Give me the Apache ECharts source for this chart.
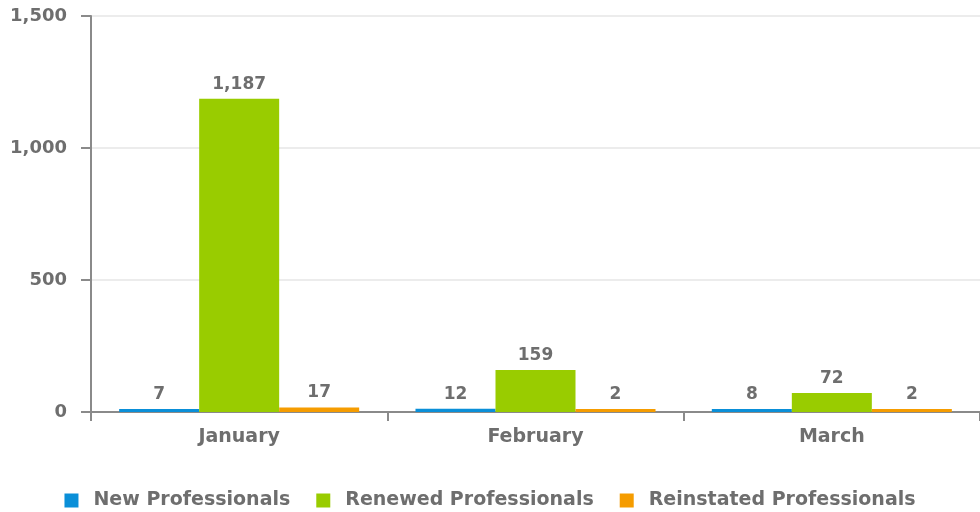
<!DOCTYPE html>
<html>
<head>
<meta charset="utf-8">
<script src="https://cdn.jsdelivr.net/npm/echarts@6/dist/echarts.min.js"></script>
<style>
  html, body { margin: 0; padding: 0; background: #fff; }
  #main { width: 980px; height: 512px; }
</style>
</head>
<body>
<div id="main"></div>
<script>
// 数据
const months = ['January', 'February', 'March']
const newPros = [7, 12, 8]
const renewedPros = [1187, 159, 72]
const reinstatedPros = [17, 2, 2]
const seriesNames = ['New Professionals', 'Renewed Professionals', 'Reinstated Professionals']
const colors = ['#0a8fd8', '#99cc00', '#f59c00']

const textColor = '#6e6e6e'
const font = 'DejaVu Sans'

const makeSeries = function (name, data, color) {
  return {
    name: name,
    type: 'bar',
    data: data,
    barGap: 0,
    barCategoryGap: '19%',
    barMinHeight: 3,
    itemStyle: { color: color },
    label: {
      show: true,
      position: 'top',
      distance: 6,
      color: textColor,
      fontFamily: font,
      fontWeight: 'bold',
      fontSize: 17,
      formatter: p => p.value.toLocaleString('en-US')
    }
  }
}

const myChart = echarts.init(document.getElementById('main'))
myChart.setOption({
  animation: false,
  grid: { left: 91, right: -2, top: 16, bottom: 100, containLabel: false },
  legend: {
    top: 486,
    left: 'center',
    itemWidth: 14,
    itemHeight: 14,
    itemGap: 26,
    icon: 'rect',
    textStyle: {
      color: textColor, fontFamily: font, fontWeight: 'bold', fontSize: 19,
      padding: [0, 0, 0, 10]
    },
    data: seriesNames
  },
  xAxis: {
    type: 'category',
    data: months,
    axisLine: { lineStyle: { color: '#8a8a8a', width: 2 } },
    axisTick: { show: true, length: 9, lineStyle: { color: '#8a8a8a', width: 2 } },
    axisLabel: { color: textColor, fontFamily: font, fontWeight: 'bold', fontSize: 19, margin: 16 }
  },
  yAxis: {
    type: 'value',
    min: 0,
    max: 1500,
    interval: 500,
    axisLine: { show: true, lineStyle: { color: '#8a8a8a', width: 2 } },
    axisTick: { show: true, length: 10, lineStyle: { color: '#8a8a8a', width: 2 } },
    splitLine: { lineStyle: { color: '#ececec', width: 2 } },
    axisLabel: {
      color: textColor, fontFamily: font, fontWeight: 'bold', fontSize: 18, margin: 24,
      formatter: v => v.toLocaleString('en-US')
    }
  },
  series: [
    makeSeries(seriesNames[0], newPros, colors[0]),
    makeSeries(seriesNames[1], renewedPros, colors[1]),
    makeSeries(seriesNames[2], reinstatedPros, colors[2])
  ]
})
</script>
</body>
</html>
